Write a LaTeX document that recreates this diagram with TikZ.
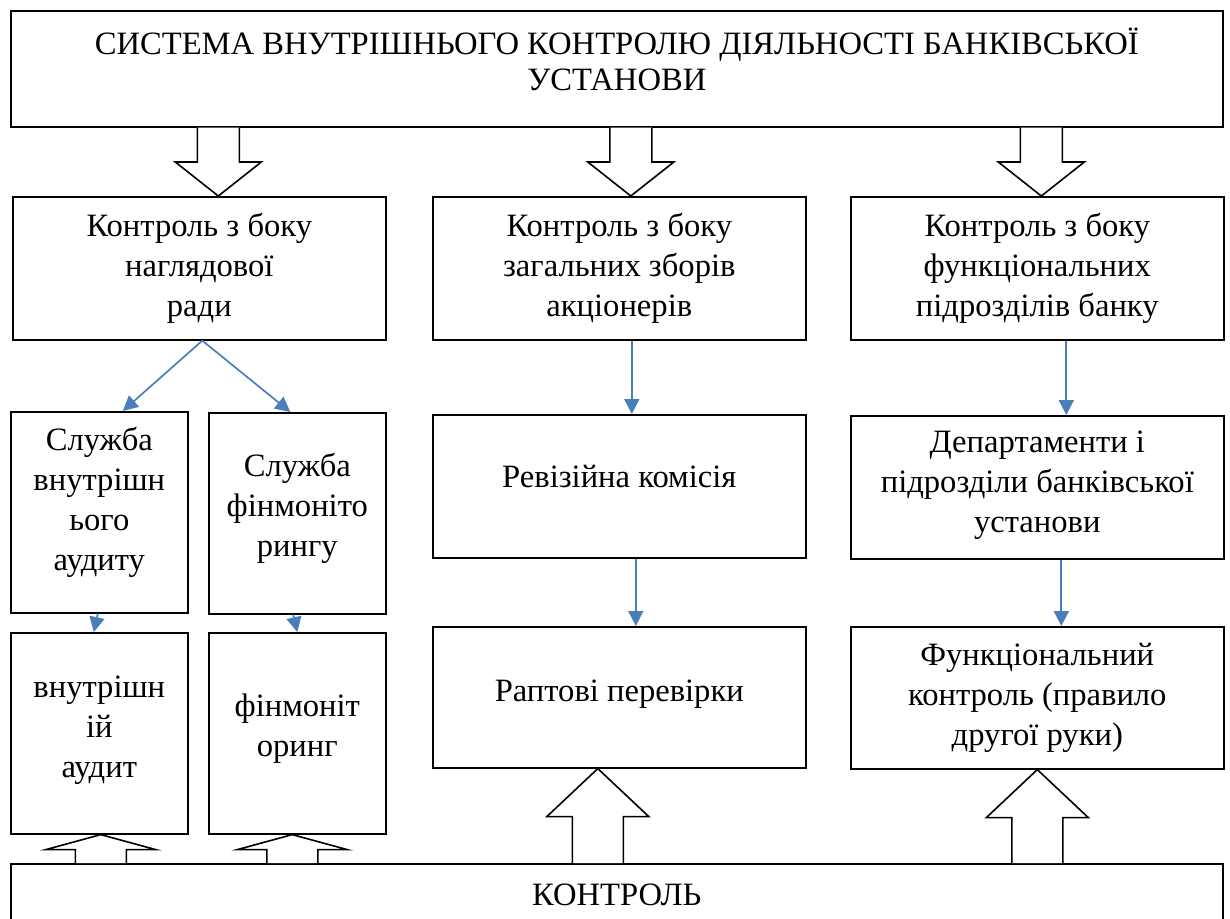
\documentclass[tikz,border=0pt]{standalone}
\usepackage{fontspec}
\setmainfont{Liberation Serif}
\usetikzlibrary{calc,arrows.meta}
\definecolor{flowblue}{RGB}{74,126,187}
\newcommand{\fatarrow}[5]{%
  \draw[fat] ($(#1 |- #2)+(-#3,0)$) -- ($(#1)+(-#3,#5)$) -- ($(#1)+(-#4,#5)$) -- (#1) -- ($(#1)+(#4,#5)$) -- ($(#1)+(#3,#5)$) -- ($(#1 |- #2)+(#3,0)$);}

\begin{document}
\begin{tikzpicture}[x=0.5pt, y=-0.5pt]
    \tikzstyle{every node}=[font={\fontsize{16.3}{20}\selectfont}]
    \tikzstyle{box}=[draw, line width=0.8pt, anchor=north west, align=center, inner sep=2pt]
    \tikzstyle{wide}=[box, minimum width=186.5pt, minimum height=71.5pt]
    \tikzstyle{narrow}=[box, minimum width=88.5pt, minimum height=100.5pt]
    \tikzstyle{fat}=[draw, line width=0.8pt, fill=white, line join=miter]
    \tikzstyle{flow}=[-{Triangle[length=7.5pt,width=7.5pt]}, color=flowblue, line width=0.85pt]
    \useasboundingbox (0,0) rectangle (1230,918);
    \clip (0,0) rectangle (1230,918);

    \node[box, minimum width=606pt, minimum height=58pt, text depth=10pt, font={\fontsize{16.3}{18}\selectfont}] (sys) at (10,10) {СИСТЕМА ВНУТРІШНЬОГО КОНТРОЛЮ ДІЯЛЬНОСТІ БАНКІВСЬКОЇ\\УСТАНОВИ};

    \node[wide] (nagl) at (12,196) {Контроль з боку\\наглядової\\ради};
    \node[wide] (zbory) at (432,196) {Контроль з боку\\загальних зборів\\акціонерів};
    \node[wide] (funk) at (850,196) {Контроль з боку\\функціональних\\підрозділів банку};

    \node[narrow, text depth=13.5pt] (audsl) at (10,411) {Служба\\внутрішн\\ього\\аудиту};
    \node[narrow, text depth=8.5pt] (finsl) at (208,412) {Служба\\фінмоніто\\рингу};
    \node[wide, text depth=10pt] (reviz) at (432,414) {Ревізійна комісія};
    \node[wide, text depth=5.5pt] (dep) at (850,415) {Департаменти і\\підрозділи банківської\\установи};

    \node[narrow, text depth=7pt] (audit) at (10,632) {внутрішн\\ій\\аудит};
    \node[narrow, text depth=8.5pt] (finmon) at (208,632) {фінмоніт\\оринг};
    \node[wide, minimum height=70.5pt, text depth=6.5pt] (rapt) at (432,626) {Раптові перевірки};
    \node[wide, minimum height=71pt] (fkontr) at (850,626) {Функціональний\\контроль (правило\\другої руки)};

    \node[box, minimum width=606pt, minimum height=31pt] (ktr) at (10,863) {КОНТРОЛЬ};

    \draw[flow] ($(nagl.south)+(3,0)$) -- ($(audsl.north)+(23.5,0)$);
    \draw[flow] ($(nagl.south)+(3,0)$) -- ($(finsl.north)+(-7,0)$);
    \draw[flow] ($(zbory.south)+(12.5,0)$) -- ($(reviz.north)+(12.5,0)$);
    \draw[flow] ($(reviz.south)+(16.5,0)$) -- ($(rapt.north)+(16.5,0)$);
    \draw[flow] ($(funk.south)+(29,0)$) -- ($(dep.north)+(29,0)$);
    \draw[flow] ($(dep.south)+(24,0)$) -- ($(fkontr.north)+(24,0)$);
    \draw[flow] ($(audsl.south)+(-1.5,0)$) -- ($(audit.north)+(-5.5,0)$);
    \draw[flow] ($(finsl.south)+(-4,0)$) -- (finmon.north);

    \coordinate (d1) at ($(nagl.north)+(19,0)$);
    \coordinate (d2) at ($(zbory.north)+(11.5,0)$);
    \coordinate (d3) at ($(funk.north)+(4,0)$);
    \fatarrow{d1}{sys.south}{21}{43}{-34}
    \fatarrow{d2}{sys.south}{21}{43}{-34}
    \fatarrow{d3}{sys.south}{21}{43}{-34}

    \coordinate (u1) at ($(audit.south)+(1.5,0)$);
    \coordinate (u2) at ($(finmon.south)+(-5,0)$);
    \coordinate (u3) at ($(rapt.south)+(-21.5,0)$);
    \coordinate (u4) at (fkontr.south);
    \fatarrow{u1}{ktr.north}{25.5}{55}{15}
    \fatarrow{u2}{ktr.north}{25.5}{55}{15}
    \fatarrow{u3}{ktr.north}{25.5}{51}{48}
    \fatarrow{u4}{ktr.north}{25.5}{51}{48}
\end{tikzpicture}
\end{document}
